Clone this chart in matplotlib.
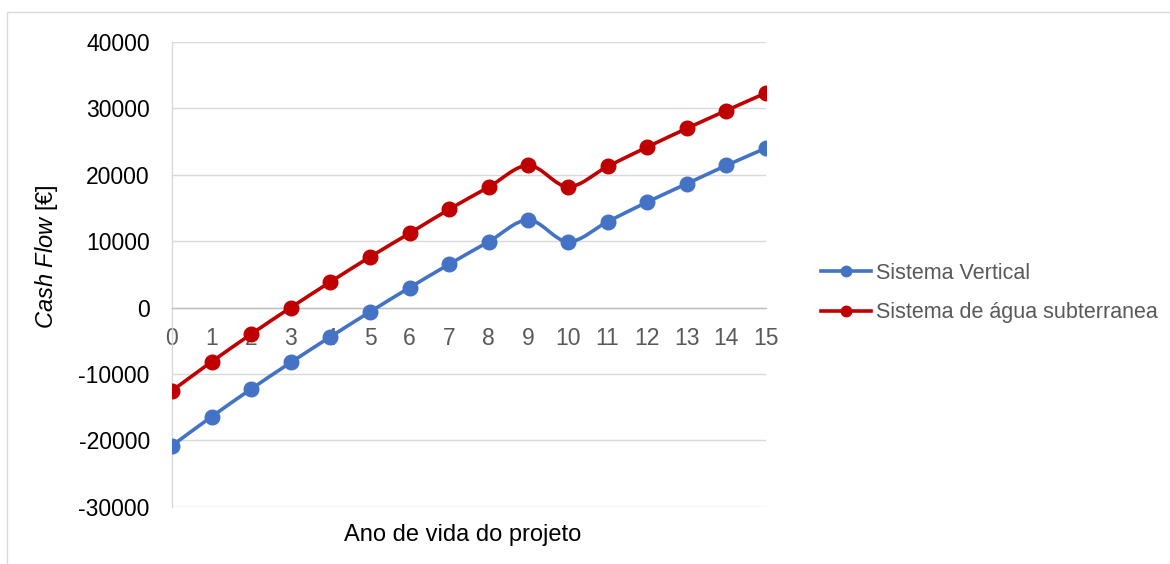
import numpy as np
import matplotlib
matplotlib.use("Agg")
import matplotlib.pyplot as plt
from matplotlib.path import Path
from matplotlib.patches import PathPatch, Rectangle
from matplotlib.lines import Line2D

plt.rcParams['font.family'] = ['Liberation Sans', 'DejaVu Sans']
plt.rcParams['mathtext.fontset'] = 'custom'
plt.rcParams['mathtext.it'] = 'Liberation Sans:italic'
plt.rcParams['mathtext.rm'] = 'Liberation Sans'

# data
anos = list(range(16))
sistema_vertical = [-20800, -16440, -12270, -8270, -4410, -650, 3000, 6530,
                    9920, 13190, 9920, 12930, 15890, 18650, 21410, 24020]
sistema_agua = [-12530, -8170, -4000, 0, 3860, 7620, 11190, 14800,
                18150, 21410, 18200, 21260, 24170, 26980, 29680, 32330]
series_names = ["Sistema Vertical", "Sistema de água subterranea"]
series_colors = ["#4472C4", "#C00000"]
y_ticks = [-30000, -20000, -10000, 0, 10000, 20000, 30000, 40000]


def smooth_path(x, y):
    # Excel-like smoothed line: cubic bezier segments (Catmull-Rom tangents)
    p = np.column_stack([x, y]).astype(float)
    ext = np.vstack([p[0], p, p[-1]])
    verts = [p[0]]
    codes = [Path.MOVETO]
    for i in range(len(p) - 1):
        p0, p1, p2, p3 = ext[i], ext[i + 1], ext[i + 2], ext[i + 3]
        c1 = p1 + (p2 - p0) / 6
        c2 = p2 - (p3 - p1) / 6
        verts += [c1, c2, p2]
        codes += [Path.CURVE4] * 3
    return Path(verts, codes)


fig = plt.figure(figsize=(11.7, 5.64), dpi=100)
ax = fig.add_axes([172 / 1170, 1 - 506.7 / 564, 594 / 1170, 464.7 / 564])

# outer chart border
fig.patches.append(Rectangle((7 / 1170, -0.1), 1.2, 1 - 12 / 564 + 0.1,
                             transform=fig.transFigure, fill=False,
                             edgecolor="#d9d9d9", linewidth=1.0))

for vals, name, col in zip([sistema_vertical, sistema_agua], series_names, series_colors):
    ax.add_patch(PathPatch(smooth_path(anos, vals), facecolor="none",
                           edgecolor=col, linewidth=2.6, zorder=3,
                           capstyle="round", joinstyle="round"))
    ax.plot(anos, vals, "o", color=col, markersize=10.5, zorder=4, linestyle="none")

ax.set_xlim(0, 15)
ax.set_ylim(-30000, 40000)
ax.set_yticks(y_ticks)
ax.set_yticklabels([str(v) for v in y_ticks])
ax.set_xticks(anos)
ax.set_xticklabels([str(a) for a in anos])

ax.grid(axis="y", color="#d9d9d9", linewidth=1.0)
ax.set_axisbelow(True)
for s in ["top", "right"]:
    ax.spines[s].set_visible(False)
ax.spines["bottom"].set_position(("data", 0))
ax.spines["bottom"].set_color("#bfbfbf")
ax.spines["left"].set_color("#d9d9d9")
ax.spines["bottom"].set_linewidth(1.0)
ax.spines["left"].set_linewidth(1.0)

ax.tick_params(axis="y", length=0, pad=16, labelsize=16.5, labelcolor="black")
ax.tick_params(axis="x", length=0, pad=14, labelsize=16.5, labelcolor="#595959")

ax.set_ylabel(r"$\mathit{Cash\ Flow}$ [€]", fontsize=17, color="black")
ax.yaxis.set_label_coords(-0.1886, 0.538)
ax.set_xlabel("Ano de vida do projeto", fontsize=17, color="black")
ax.xaxis.set_label_coords(0.49, -0.037)

handles = [Line2D([], [], color=c, linewidth=2.6, marker="o", markersize=7.5)
           for c in series_colors]
leg = fig.legend(handles, series_names, loc="center left",
                 bbox_to_anchor=(802 / 1170, 1 - 293 / 564), frameon=False,
                 fontsize=15.5, handlelength=2.3, handletextpad=0.23,
                 labelspacing=0.85, borderpad=0.4)
for t in leg.get_texts():
    t.set_color("#595959")

fig.savefig("out.png", dpi=100)
